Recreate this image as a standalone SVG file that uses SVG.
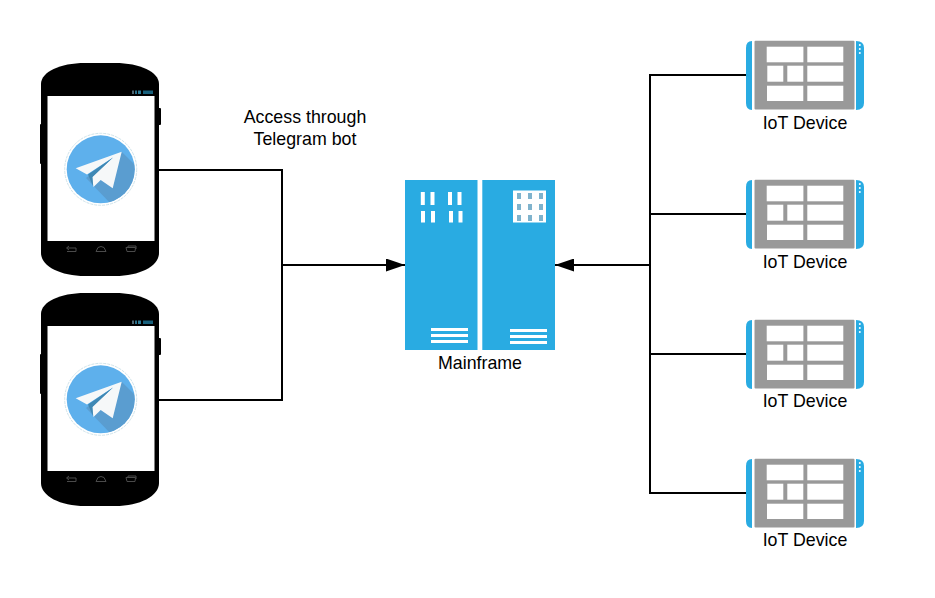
<svg xmlns="http://www.w3.org/2000/svg" xmlns:xlink="http://www.w3.org/1999/xlink" width="935" height="598" viewBox="0 0 935 598">
<style>
text{font-family:"Liberation Sans",Arial,sans-serif;font-size:17.8px;fill:#000;text-anchor:middle}
.wire{fill:none;stroke:#000;stroke-width:2}
.nav{fill:none;stroke:#4a4a4a;stroke-width:1}
.blue{fill:#29abe2}
.wh{fill:#fff}
.gray{fill:#999}
.pane{fill:#fff}
</style>
<defs>
<marker id="arrow" markerUnits="userSpaceOnUse" markerWidth="19" markerHeight="13" refX="19" refY="6.500" orient="auto"><path d="M0 0L19 6.500L0 13Z" fill="#000"/></marker>
<clipPath id="disc"><circle cx="100.7" cy="169.3" r="34"/></clipPath>
<g id="phone">
<rect x="40" y="124" width="3" height="40" rx="1" fill="#000"/>
<rect x="157" y="108" width="4" height="17" rx="1" fill="#000"/>
<path d="M41 84C41 72 60 63 85 63H115C140 63 159 72 159 84V253C159 266 140 276 115 276H85C60 276 41 266 41 253Z" fill="#000"/>
<rect x="47.500" y="96" width="107" height="145" fill="#fff"/>
<rect x="132" y="90.500" width="2" height="3.500" fill="#4d6470"/><rect x="135" y="90.500" width="2" height="3.500" fill="#2a6d87"/><rect x="138" y="90.500" width="3" height="3.500" fill="#2a7a96"/><rect x="143" y="90.500" width="10" height="3.500" fill="#17607c"/>
<path class="nav" d="M67 248H76V251.500H67M69 246L66.500 248L69 250"/>
<path class="nav" d="M96 251.500H106L104 247.500Q101 245.500 98 247.500Z"/>
<path class="nav" d="M126 247.500H135.500L135 251.500H127ZM128 247.500V246H136V249"/>
<circle cx="100.700" cy="169.300" r="36" fill="#fff" stroke="#cfe3ea" stroke-width="1" stroke-dasharray="3 1"/>
<circle cx="100.700" cy="169.300" r="34" fill="#5eb0ec"/>
<path clip-path="url(#disc)" d="M121.700 151.700L140 170L140 210L112 205L86 178Z" fill="#5a9dd0"/>
<path d="M121.700 151.700L75.700 168.300L87 174.500L113 157.500L92 177L93.500 187L100.700 180L112.700 188.300Z" fill="#f6f8f9"/>
<path d="M113 157.500L88 174.500L93 186L92.500 177Z" fill="#3f88b4"/>
</g>
<g id="device">
<path class="blue" d="M752 41V110Q746 110 746 103V48Q746 41 752 41Z"/>
<rect class="gray" x="754.500" y="40.700" width="100" height="68.800" rx="1"/>
<path class="blue" d="M856 41Q864 41 864 48V103Q864 110 856 110Z"/>
<g fill="#fff"><circle cx="859.800" cy="45" r="1"/><circle cx="859.800" cy="49" r="1"/><circle cx="859.800" cy="53" r="1"/></g>
<rect class="pane" x="766.700" y="46.700" width="36.700" height="15.600"/>
<rect class="pane" x="807.300" y="46.700" width="36" height="15.600"/>
<rect class="pane" x="767.300" y="65.700" width="16" height="16"/>
<rect class="pane" x="787.300" y="65.700" width="16" height="16"/>
<rect class="pane" x="807.300" y="65.700" width="36" height="16"/>
<rect class="pane" x="767" y="85.700" width="36.300" height="15.300"/>
<rect class="pane" x="807.300" y="85.700" width="36" height="15.300"/>
</g>
</defs>
<g id="connectors">
<path class="wire" d="M159 170H282V400H159"/>
<path class="wire" d="M282 265H405" marker-end="url(#arrow)"/>
<path class="wire" d="M746 75H650V493H746M650 214H746M650 354H746"/>
<path class="wire" d="M650 265H555" marker-end="url(#arrow)"/>
</g>
<g id="phone-1"><use href="#phone" xlink:href="#phone"/></g>
<g id="phone-2"><use href="#phone" xlink:href="#phone" y="230"/></g>
<text id="access-label" x="305" y="123">Access through<tspan x="305" y="145">Telegram bot</tspan></text>
<g id="mainframe">
<rect class="blue" x="405" y="180" width="72.500" height="170"/>
<rect class="blue" x="482.300" y="180" width="72.700" height="170"/>
<g class="wh">
<rect x="420.800" y="192" width="4" height="13"/><rect x="430.500" y="192" width="4" height="13"/><rect x="448" y="192" width="4" height="13"/><rect x="457.500" y="192" width="4" height="13"/>
<rect x="421" y="211" width="4" height="11.500"/><rect x="431" y="211" width="4" height="11.500"/><rect x="449" y="211" width="4" height="11.500"/><rect x="458.500" y="211" width="4" height="11.500"/>
<rect x="431" y="328" width="37" height="3"/><rect x="431" y="334" width="37" height="3"/><rect x="431" y="340" width="37" height="3"/>
<rect x="510" y="329" width="37" height="3"/><rect x="510" y="335" width="37" height="3"/><rect x="510" y="341" width="37" height="3"/>
<rect x="513" y="190.500" width="33" height="32"/>
</g>
<g fill="#7fb3cd">
<rect x="517" y="193" width="4" height="6"/><rect x="528" y="193" width="4" height="6"/><rect x="539" y="193" width="4" height="6"/>
<rect x="517" y="204" width="4" height="6"/><rect x="528" y="204" width="4" height="6"/><rect x="539" y="204" width="4" height="6"/>
<rect x="517" y="215" width="4" height="6"/><rect x="528" y="215" width="4" height="6"/><rect x="539" y="215" width="4" height="6"/>
</g>
<text x="480" y="369">Mainframe</text>
</g>
<g id="device-1"><use href="#device" xlink:href="#device"/><text x="805" y="129">IoT Device</text></g>
<g id="device-2"><use href="#device" xlink:href="#device" y="139"/><text x="805" y="268">IoT Device</text></g>
<g id="device-3"><use href="#device" xlink:href="#device" y="279"/><text x="805" y="407">IoT Device</text></g>
<g id="device-4"><use href="#device" xlink:href="#device" y="418"/><text x="805" y="546">IoT Device</text></g>
</svg>
